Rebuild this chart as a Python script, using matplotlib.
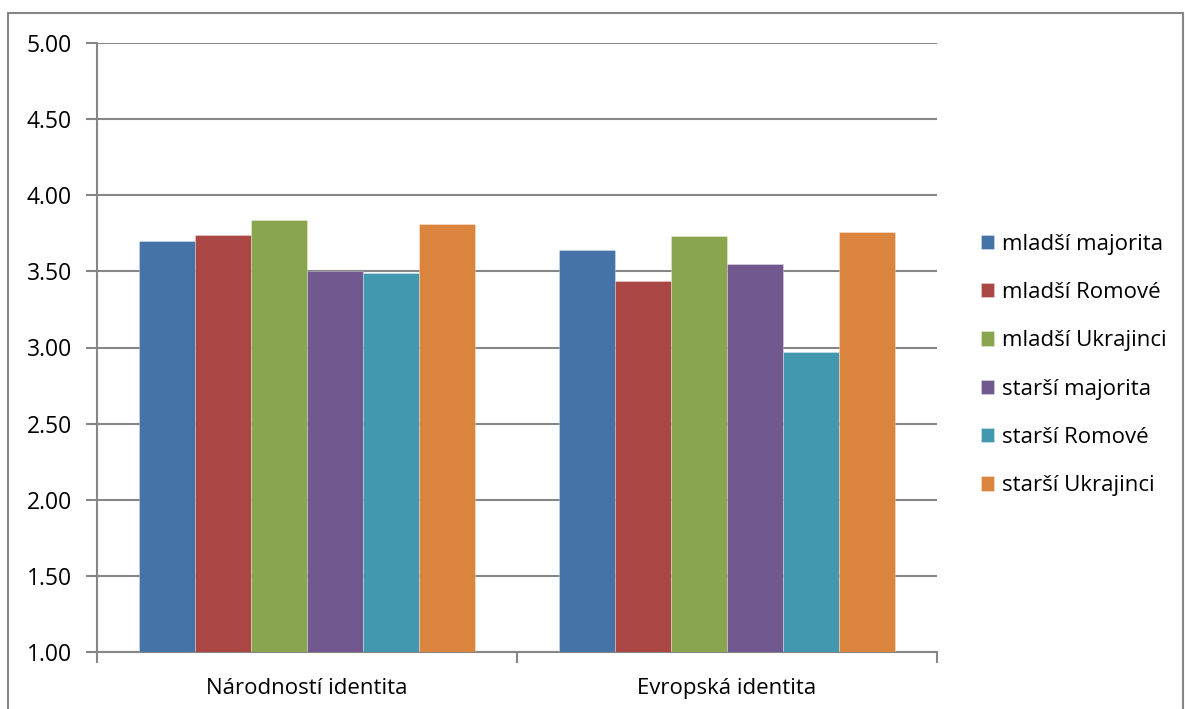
import matplotlib
matplotlib.use("Agg")
import matplotlib.pyplot as plt
import numpy as np
from matplotlib.patches import Rectangle

# data
categories = ["Národností identita", "Evropská identita"]
series = ["mladší majorita", "mladší Romové", "mladší Ukrajinci",
          "starší majorita", "starší Romové", "starší Ukrajinci"]
values = [
    [3.70, 3.64],
    [3.74, 3.44],
    [3.84, 3.73],
    [3.50, 3.55],
    [3.49, 2.97],
    [3.81, 3.76],
]
colors = ["#4572A7", "#AA4643", "#89A54E", "#71588F", "#4198AF", "#DB843D"]

plt.rcParams['font.family'] = ['Open Sans', 'DejaVu Sans']
grid_c = "#868686"

fig = plt.figure(figsize=(11.85, 7.09), dpi=100)
ax = fig.add_axes([97 / 1185, 1 - 652 / 709, 840 / 1185, 609 / 709])

x = np.arange(len(categories))
bw = 1 / 7.5
for i, (name, vals) in enumerate(zip(series, values)):
    offs = (i - 2.5) * bw
    ax.bar(x + offs, np.array(vals) - 1.0, bw, bottom=1.0, color=colors[i],
           label=name, edgecolor=(1, 1, 1, 0.35), linewidth=0.6, zorder=3)

ax.set_xlim(-0.5, 1.5)
ax.set_ylim(1.0, 5.0)
ax.set_yticks(np.arange(1.0, 5.01, 0.5))
ax.set_yticklabels(["%.2f" % v for v in np.arange(1.0, 5.01, 0.5)])
ax.yaxis.grid(True, color=grid_c, linewidth=1.5, zorder=0)
ax.set_xticks([-0.5, 0.5, 1.5], minor=False)
ax.set_xticklabels([])
ax.set_xticks([0, 1], minor=True)
ax.set_xticklabels(categories, minor=True)
ax.tick_params(axis='x', which='minor', length=0, pad=19, labelsize=16)
ax.tick_params(axis='x', which='major', length=8, width=1.5, color=grid_c)
ax.tick_params(axis='y', length=8, width=1.5, color=grid_c, labelsize=16.5, pad=10)
for s in ["top", "right"]:
    ax.spines[s].set_visible(False)
for s in ["left", "bottom"]:
    ax.spines[s].set_color(grid_c)
    ax.spines[s].set_linewidth(1.5)

fig.legend(loc="center left", bbox_to_anchor=(972 / 1185, 1 - 365 / 709),
           frameon=False, fontsize=16, handlelength=0.6, handleheight=0.6,
           handletextpad=0.35, labelspacing=1.23, borderaxespad=0)

fig.patches.append(Rectangle((8 / 1185, -0.1), (1183 - 8) / 1185, 1.1 - 13 / 709,
                             transform=fig.transFigure, fill=False,
                             edgecolor=grid_c, linewidth=1.5))

fig.savefig("out.png", dpi=100)
